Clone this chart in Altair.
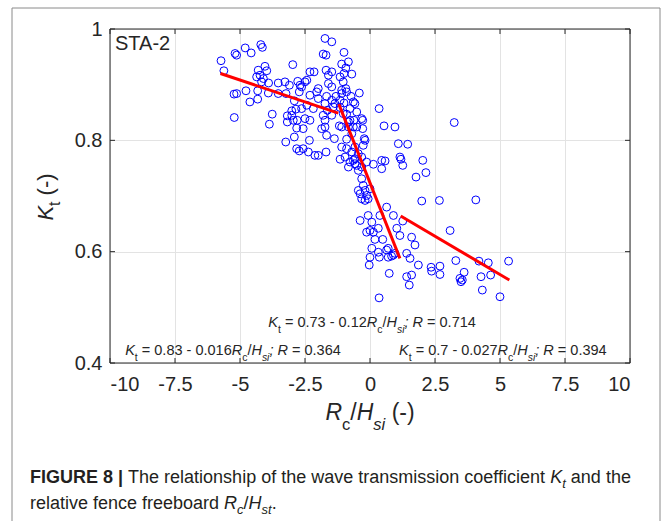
import altair as alt
import pandas as pd

# ---------------- data ----------------
rc_hsi = [-5.73, -5.62, -5.19, -5.13, -4.80, -4.57, -4.20, -4.14, -2.97, -4.30,
          -4.04, -3.97, -4.23, -4.36, -4.10, -3.90, -4.17, -3.53, -3.27, -3.10,
          -2.78, -4.77, -5.23, -5.13, -4.32, -3.91, -3.53, -3.23, -2.72, -4.62,
          -4.32, -2.91, -5.22, -3.76, -3.87, -3.18, -3.01, -2.85, -3.18, -2.80,
          -2.82, -2.91, -3.24, -2.72, -1.73, -1.47, -1.00, -1.80, -1.69, -0.83,
          -1.09, -0.93, -2.31, -2.15, -1.69, -1.47, -1.60, -0.70, -1.00, -1.15,
          -1.60, -1.03, -0.93, -1.09, -1.47, -2.43, -2.69, -1.99, -2.05, -1.31,
          -1.09, -0.90, -0.41, -0.73, -1.99, -2.31, -1.67, -1.47, -1.73, -1.35,
          -1.00, -0.64, -2.18, -2.63, -2.43, -1.15, -0.77, -0.51, 0.35, -1.64,
          -1.47, -0.90, -0.62, -0.83, -0.28, -1.73, -2.31, -1.18, -0.64, -0.28,
          0.54, 0.96, -1.86, -1.67, -1.37, -0.90, -0.22, -2.33, -2.37, -1.99,
          -1.69, -0.90, -0.58, -1.15, -0.83, -0.64, -0.32, 0.13, 0.45, 1.15,
          1.09, -2.82, -2.57, -2.12, -1.09, -0.70, -0.96, -0.77, -0.58, -0.45,
          -0.26, -0.19, -0.51, -0.32, -0.13, -1.15, -0.58, -1.41, -1.80, -1.03,
          -0.32, -0.77, -3.01, -2.95, -2.50, -2.57, -1.73, -1.09, -0.83, -0.51,
          -0.70, -2.63, -2.50, -0.58, -0.45, 0.45, 0.58, 1.19, 1.26, 1.77,
          -0.32, -0.26, -0.19, -0.38, -0.13, -0.32, -0.07, -0.19, 0.00, -0.45,
          0.64, 0.90, 0.38, -0.07, 0.07, -0.38, 0.32, -0.13, 0.00, 0.13,
          1.03, 1.15, 1.60, 1.73, 0.19, 0.49, 0.07, 0.00, 0.32, 0.36,
          0.64, 0.70, 0.83, 0.90, -0.03, 1.41, 1.54, 1.86, 0.74, 1.41,
          1.60, 1.51, 0.35, 3.24, 1.45, 2.03, 2.15, 1.99, 2.67, 4.07,
          1.26, 3.08, 0.70, 0.96, 2.35, 2.37, 2.69, 2.69, 3.30, 3.62,
          3.46, 3.50, 3.55, 4.19, 4.55, 4.27, 4.64, 5.33, 4.32, 5.00]
kt = [0.943, 0.925, 0.956, 0.953, 0.966, 0.957, 0.972, 0.967, 0.936, 0.926,
      0.933, 0.925, 0.917, 0.914, 0.911, 0.903, 0.905, 0.903, 0.905, 0.899,
      0.906, 0.889, 0.883, 0.884, 0.889, 0.885, 0.884, 0.884, 0.887, 0.869,
      0.874, 0.871, 0.841, 0.847, 0.829, 0.844, 0.853, 0.856, 0.833, 0.836,
      0.822, 0.806, 0.797, 0.781, 0.983, 0.977, 0.958, 0.955, 0.953, 0.941,
      0.937, 0.930, 0.923, 0.923, 0.926, 0.923, 0.917, 0.919, 0.920, 0.914,
      0.902, 0.905, 0.893, 0.890, 0.896, 0.908, 0.899, 0.893, 0.887, 0.879,
      0.884, 0.887, 0.885, 0.879, 0.875, 0.881, 0.879, 0.872, 0.866, 0.866,
      0.867, 0.869, 0.857, 0.857, 0.863, 0.859, 0.857, 0.851, 0.857, 0.854,
      0.845, 0.847, 0.836, 0.833, 0.836, 0.836, 0.836, 0.826, 0.824, 0.821,
      0.826, 0.824, 0.821, 0.809, 0.803, 0.802, 0.803, 0.800, 0.779, 0.773,
      0.779, 0.785, 0.788, 0.766, 0.752, 0.764, 0.770, 0.757, 0.764, 0.770,
      0.794, 0.785, 0.785, 0.773, 0.788, 0.779, 0.770, 0.761, 0.767, 0.776,
      0.791, 0.800, 0.755, 0.752, 0.761, 0.872, 0.866, 0.860, 0.845, 0.848,
      0.839, 0.836, 0.845, 0.836, 0.839, 0.821, 0.824, 0.824, 0.824, 0.824,
      0.812, 0.896, 0.905, 0.758, 0.746, 0.749, 0.763, 0.766, 0.755, 0.734,
      0.731, 0.719, 0.710, 0.704, 0.701, 0.695, 0.695, 0.692, 0.713, 0.710,
      0.680, 0.665, 0.665, 0.665, 0.653, 0.656, 0.642, 0.635, 0.638, 0.635,
      0.642, 0.629, 0.626, 0.612, 0.622, 0.622, 0.606, 0.590, 0.599, 0.590,
      0.603, 0.590, 0.592, 0.594, 0.576, 0.597, 0.588, 0.576, 0.561, 0.555,
      0.558, 0.540, 0.517, 0.832, 0.793, 0.764, 0.742, 0.691, 0.692, 0.693,
      0.655, 0.638, 0.606, 0.597, 0.572, 0.565, 0.574, 0.559, 0.584, 0.563,
      0.552, 0.546, 0.549, 0.583, 0.580, 0.555, 0.558, 0.583, 0.531, 0.519]

# fitted segments (start / end)
fit_x0 = [-5.75, -1.20, 1.18]
fit_x1 = [-1.22, 1.15, 5.36]
fit_y0 = [0.920, 0.865, 0.664]
fit_y1 = [0.849, 0.588, 0.549]

x_ticks = [-10, -7.5, -5, -2.5, 0, 2.5, 5, 7.5, 10]
y_ticks = [0.4, 0.6, 0.8, 1.0]

# equation annotations: anchor (x, y) in data units and rich-text segments
eq_x = [0.08, -5.27, 5.11]
eq_y = [0.465, 0.4145, 0.4145]
eq_segments = [
    [("K", "i"), ("t", "sub"), (" = 0.73 - 0.12", "n"), ("R", "i"), ("c", "sub"), ("/", "n"),
     ("H", "i"), ("si", "isub"), (";", "i"), (" ", "n"), ("R", "i"), (" = 0.714", "n")],
    [("K", "i"), ("t", "sub"), (" = 0.83 - 0.016", "n"), ("R", "i"), ("c", "sub"), ("/", "n"),
     ("H", "i"), ("si", "isub"), (";", "i"), (" ", "n"), ("R", "i"), (" = 0.364", "n")],
    [("K", "i"), ("t", "sub"), (" = 0.7 - 0.027", "n"), ("R", "i"), ("c", "sub"), ("/", "n"),
     ("H", "i"), ("si", "isub"), (";", "i"), (" ", "n"), ("R", "i"), (" = 0.394", "n")],
]
panel_label = "STA-2"
x_title = [("R", "i"), ("c", "sub"), ("/", "n"), ("H", "i"), ("si", "isub"), (" (-)", "n")]
y_title = [("K", "i"), ("t", "sub"), (" (-)", "n")]
caption_1 = [("FIGURE 8 |", "b"), (" The relationship of the wave transmission coefficient ", "n"),
             ("K", "i"), ("t", "isub"), (" and the", "n")]
caption_2 = [("relative fence freeboard ", "n"), ("R", "i"), ("c", "isub"), ("/", "n"),
             ("H", "i"), ("st", "isub"), (".", "n")]

# ---------------- styling ----------------
FONT = "Liberation Sans"
W, H = 520, 334
INK = "#262626"

_upper = dict(zip("ABCDEFGHIJKLMNOPQRSTUVWXYZ",
                  [667, 667, 722, 722, 667, 611, 778, 722, 278, 500, 667, 556, 833,
                   722, 778, 667, 778, 722, 667, 611, 722, 667, 944, 667, 667, 611]))
_lower = dict(zip("abcdefghijklmnopqrstuvwxyz",
                  [556, 556, 500, 556, 556, 278, 556, 556, 222, 222, 500, 222, 833,
                   556, 556, 556, 556, 333, 500, 278, 556, 500, 722, 500, 500, 500]))
WID = {" ": 278, "(": 333, ")": 333, "-": 333, ".": 278, "/": 278, ";": 278,
       ":": 278, "=": 584, "|": 260, ",": 278}
WID.update({d: 556 for d in "0123456789"})
WID.update(_upper)
WID.update(_lower)
BWID = dict(WID)
BWID.update({"A": 722, "|": 280, "t": 333, "r": 389})


def text_width(s, size, bold=False):
    tbl = BWID if bold else WID
    return sum(tbl.get(ch, 556) for ch in s) * size / 1000.0


one = pd.DataFrame({"rc": [0.0], "kt": [0.7]})

xscale = alt.Scale(domain=[-10, 10], nice=False, zero=False)
yscale = alt.Scale(domain=[0.4, 1.0], nice=False, zero=False)
xaxis = alt.Axis(values=x_ticks, labelExpr="'' + datum.value", title=None, grid=True,
                 ticks=False, domain=False, labelPadding=11)
yaxis = alt.Axis(values=y_ticks, labelExpr="'' + datum.value", title=None, grid=True,
                 ticks=False, domain=False, labelPadding=8)


def xenc(f):
    return alt.X(f, type="quantitative", scale=xscale, axis=xaxis)


def yenc(f):
    return alt.Y(f, type="quantitative", scale=yscale, axis=yaxis)


def rich(segments, size, enc, align="left", angle=None, color=INK, sub_scale=0.72,
         sub_drop=0.33):
    pieces = []
    off = 0.0
    for txt, st in segments:
        sub = st in ("sub", "isub")
        fs = size * sub_scale if sub else size
        bold = st == "b"
        lead = len(txt) - len(txt.lstrip(" "))
        shown = txt.strip(" ")
        if shown:
            pieces.append((shown, st, off + text_width(" " * lead, fs, bold), fs, sub, bold))
        off += text_width(txt, fs, bold)
    start = -off / 2.0 if align == "center" else 0.0
    layers = []
    for shown, st, o, fs, sub, bold in pieces:
        kw = dict(align="left", baseline="alphabetic", dx=start + o,
                  dy=(size * sub_drop if sub else 0), fontSize=fs, font=FONT,
                  color=color, text=shown)
        if st in ("i", "isub"):
            kw["fontStyle"] = "italic"
        if bold:
            kw["fontWeight"] = "bold"
        if angle is not None:
            kw["angle"] = angle
        layers.append(alt.Chart(one).mark_text(**kw).encode(**enc))
    return layers


pts = pd.DataFrame({"rc": rc_hsi, "kt": kt})
fits = pd.DataFrame({"rc": fit_x0, "rc_end": fit_x1, "kt": fit_y0, "kt_end": fit_y1})
xt = pd.DataFrame({"rc": x_ticks})
yt = pd.DataFrame({"kt": y_ticks})

layers = []
layers.append(alt.Chart(pts).mark_point(shape="circle", filled=False, color="#0000ff",
                                        size=62, strokeWidth=1, opacity=1)
              .encode(x=xenc("rc"), y=yenc("kt")))
layers.append(alt.Chart(fits).mark_rule(color="#ff0000", strokeWidth=3)
              .encode(x=xenc("rc"), x2="rc_end", y=yenc("kt"), y2="kt_end"))
# inward tick marks on all four sides
layers.append(alt.Chart(xt).mark_rule(color=INK, strokeWidth=1)
              .encode(x=xenc("rc"), y=alt.value(H), y2=alt.value(H - 5)))
layers.append(alt.Chart(xt).mark_rule(color=INK, strokeWidth=1)
              .encode(x=xenc("rc"), y=alt.value(0), y2=alt.value(5)))
layers.append(alt.Chart(yt).mark_rule(color=INK, strokeWidth=1)
              .encode(y=yenc("kt"), x=alt.value(0), x2=alt.value(5)))
layers.append(alt.Chart(yt).mark_rule(color=INK, strokeWidth=1)
              .encode(y=yenc("kt"), x=alt.value(W), x2=alt.value(W - 5)))
# plot frame
layers.append(alt.Chart(one).mark_rect(fill="transparent", stroke=INK, strokeWidth=1)
              .encode(x=alt.value(0), x2=alt.value(W), y=alt.value(0), y2=alt.value(H)))
# outer figure box
layers.append(alt.Chart(one).mark_rect(fill="transparent", stroke="#8a8a8a", strokeWidth=1)
              .encode(x=alt.value(-98), x2=alt.value(550), y=alt.value(-21), y2=alt.value(505)))

# panel label
layers.append(alt.Chart(one).mark_text(text=panel_label, align="left", baseline="alphabetic",
                                       font=FONT, fontSize=20, color=INK)
              .encode(x=alt.value(5), y=alt.value(21)))

# equations
for ex, ey, segs in zip(eq_x, eq_y, eq_segments):
    anchor = pd.DataFrame({"rc": [ex], "kt": [ey]})
    for lyr in rich(segs, 14.5, dict(x=xenc("rc"), y=yenc("kt")), align="center",
                    sub_drop=0.4):
        layers.append(lyr.properties(data=anchor))

# axis titles
layers += rich(x_title, 23, dict(x=alt.value(W / 2), y=alt.value(391)), align="center",
               sub_drop=0.42)
layers += rich(y_title, 22, dict(x=alt.value(-57), y=alt.value(H / 2 + 1)), align="center",
               angle=270)

# caption
layers += rich(caption_1, 18, dict(x=alt.value(-80), y=alt.value(454)), color="#231f20",
               sub_drop=0.25)
layers += rich(caption_2, 18, dict(x=alt.value(-80), y=alt.value(480)), color="#231f20",
               sub_drop=0.25)

chart = alt.layer(*layers).properties(
    width=W, height=H, autosize="none",
    padding={"left": 110, "top": 29, "right": 42, "bottom": 158},
    background="white",
).configure_view(strokeWidth=0).configure_axis(
    gridColor="#e3e3e3", gridWidth=1, labelFont=FONT, labelFontSize=20, labelColor=INK,
)

chart.save("out.html", embed_options={"renderer": "svg", "actions": False})
